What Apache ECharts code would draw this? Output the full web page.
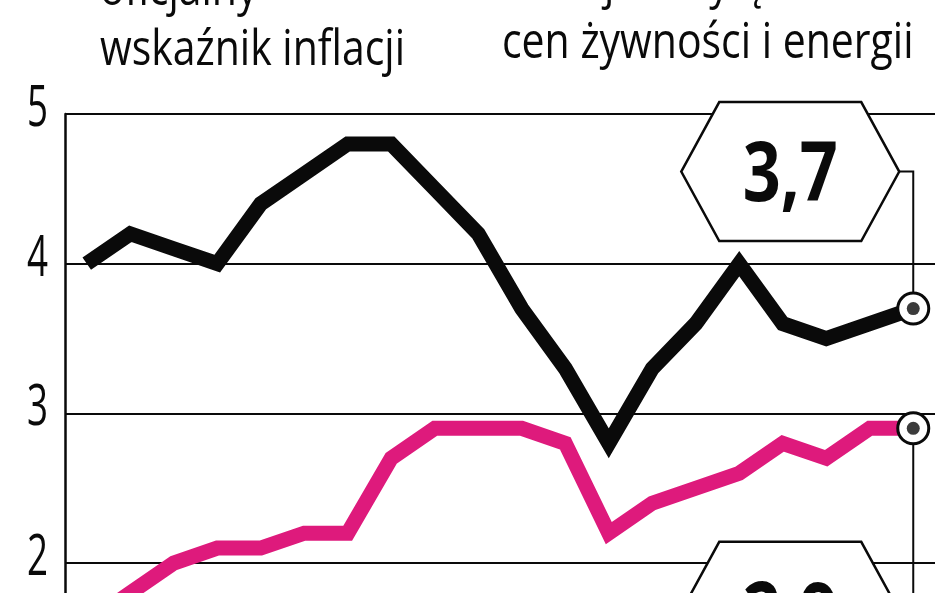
<!DOCTYPE html>
<html><head><meta charset="utf-8">
<script src="https://cdn.jsdelivr.net/npm/echarts@6/dist/echarts.min.js"></script>
<style>html,body{margin:0;padding:0;background:#fff}#c{width:948px;height:593px}</style>
</head><body><div id="c"></div>
<script>
// ---- data ----
const categories = ['1','2','3','4','5','6','7','8','9','10','11','12','13','14','15','16','17','18','19','20'];
const officialInflation = [4.0,4.2,4.1,4.0,4.4,4.6,4.8,4.8,4.5,4.2,3.7,3.3,2.8,3.3,3.6,4.0,3.6,3.5,3.6,3.7];
const coreInflation     = [1.6,1.8,2.0,2.1,2.1,2.2,2.2,2.7,2.9,2.9,2.9,2.8,2.2,2.4,2.5,2.6,2.8,2.7,2.9,2.9];
const yTicks = [2,3,4,5];
const headerLeft  = ['oficjalny','wskaźnik inflacji'];
const headerRight = ['inflacja z wyłączeniem','cen żywności i energii'];

const BLACK = '#0a0a0a';
const PINK = '#de1a7c';
const FONT = '"Open Sans", "Noto Sans", sans-serif';
const last = categories.length - 1;
const fmt = v => v.toFixed(1).replace('.', ',');

const mctx = document.createElement('canvas').getContext('2d');
function textW(text, size, weight){ mctx.font = (weight||'normal') + ' ' + size + 'px ' + FONT; return mctx.measureText(text).width; }

const chart = echarts.init(document.getElementById('c'), null, {renderer:'canvas'});

function lineSeries(name, data, color, extra){
  return Object.assign({
    name, type:'line', data, z:3,
    lineStyle:{color, width:15, join:'miter', cap:'butt'},
    itemStyle:{color:'#ffffff', borderColor:BLACK, borderWidth:3},
    symbol:(v, p) => p.dataIndex === last ? 'circle' : 'none',
    symbolSize:(v, p) => p.dataIndex === last ? 31 : 0,
    showSymbol:true, showAllSymbol:true, animation:false, silent:true
  }, extra || {});
}

chart.setOption({
  animation:false,
  grid:{left:65, right:13, top:114, bottom:0},
  xAxis:{type:'category', data:categories, boundaryGap:true, show:false},
  yAxis:{type:'value', min:1.8, max:5,
    axisLine:{show:true, lineStyle:{color:BLACK, width:2.5}},
    axisTick:{show:false}, axisLabel:{show:false}, splitLine:{show:false}},
  series:[
    lineSeries('bazowa', coreInflation, PINK, {
      markLine:{silent:true, z:1, symbol:'none', animation:false,
        label:{show:false}, lineStyle:{color:BLACK, width:2, type:'solid'},
        emphasis:{disabled:true},
        data:yTicks.map(v => ({yAxis:v}))}
    }),
    lineSeries('oficjalny', officialInflation, BLACK),
    {type:'scatter', z:5, silent:true, symbolSize:13, itemStyle:{color:BLACK},
     data:[[last, officialInflation[last]], [last, coreInflation[last]]]}
  ]
});

const graphics = [];
// y tick labels through the axis scale
const tickSize = 56;
const tickScale = 21 / textW('4', tickSize, 'normal');
yTicks.forEach(v => {
  const py = chart.convertToPixel({yAxisIndex:0}, v);
  graphics.push({type:'text', x:48, y:py - 4, scaleX:tickScale, z:10,
    style:{text:String(v), fill:BLACK, fontSize:tickSize, fontFamily:FONT, fontWeight:'normal', align:'right', verticalAlign:'middle'}});
});

// headers
const hSize = 50;
const hScale = 305 / textW(headerLeft[1], hSize, 'normal');
function header(text, x, baseline){
  graphics.push({type:'text', x, y:baseline - 0.285*hSize, scaleX:hScale, z:10,
    style:{text, fill:BLACK, fontSize:hSize, fontFamily:FONT, fontWeight:'normal', align:'left', verticalAlign:'middle'}});
}
header(headerLeft[0], 100, 5);
header(headerLeft[1], 100, 65);
header(headerRight[0], 502, -2);
header(headerRight[1], 502, 58);

// callouts
const hexW = 218, hexH = 139, inset = 38;
function hexagon(cx, cy){
  return [[cx-hexW/2, cy],[cx-hexW/2+inset, cy-hexH/2],[cx+hexW/2-inset, cy-hexH/2],
          [cx+hexW/2, cy],[cx+hexW/2-inset, cy+hexH/2],[cx-hexW/2+inset, cy+hexH/2]];
}
const vSize = 82;
function callout(value, seriesIndex, dy){
  const p = chart.convertToPixel({seriesIndex}, [last, value]);
  const cx = p[0] - 123, cy = p[1] + dy;
  graphics.push({type:'polyline', z:1, shape:{points:[[cx+hexW/2, cy],[p[0], cy],[p[0], p[1]]]},
    style:{stroke:BLACK, lineWidth:2, fill:null}});
  graphics.push({type:'polygon', z:6, shape:{points:hexagon(cx, cy)},
    style:{fill:'#ffffff', stroke:BLACK, lineWidth:2.5}});
  const label = fmt(value);
  const s = 95 / textW(label, vSize, 'bold');
  graphics.push({type:'text', x:cx, y:cy + 6, scaleX:s, z:7,
    style:{text:label, fill:BLACK, fontSize:vSize, fontFamily:FONT, fontWeight:'bold', align:'center', verticalAlign:'middle'}});
}
callout(officialInflation[last], 1, -137);
callout(coreInflation[last], 0, 183);

chart.setOption({graphic:{elements:graphics}});
</script></body></html>
